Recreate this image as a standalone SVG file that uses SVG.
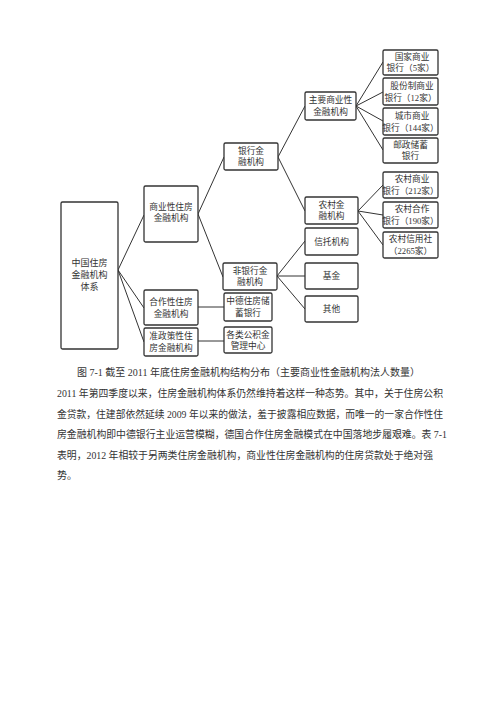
<svg xmlns="http://www.w3.org/2000/svg" width="500" height="707" viewBox="0 0 500 707">
<style>
.b{fill:#fff;stroke:#333;stroke-width:1.3}
.t{font-family:"Liberation Serif","Noto Sans CJK SC",serif;font-size:8.7px;fill:#333;text-anchor:middle}
.c{stroke:#333;stroke-width:1;fill:none}
.p{font-family:"Liberation Serif","Noto Sans CJK SC",serif;font-size:10px;fill:#333}
</style>
<rect width="500" height="707" fill="#fff"/>
<g id="connectors">
<path class="c" d="M118 270L144 215M118 270L144 308M118 270L144 342"/>
<path class="c" d="M198 214L224 157M198 214L223 277"/>
<path class="c" d="M278 157L305 106M278 157L305 211"/>
<path class="c" d="M356 106L383 62M356 106L383 92M356 106L383 121M356 106L383 150"/>
<path class="c" d="M358 211L383 185M358 211L383 215M358 211L383 245"/>
<path class="c" d="M277 276L305 241M277 276L305 276M277 276L305 309"/>
<path class="c" d="M198 307L224 307M198 341L224 341"/>
</g>
<g id="n-main"><rect class="b" x="61" y="202" width="57" height="147" rx="1.5"/><text class="t" style="font-size:9px"><tspan x="89.5" y="266">中国住房</tspan><tspan x="89.5" y="278">金融机构</tspan><tspan x="89.5" y="290">体系</tspan></text></g>
<g id="n-commercial"><rect class="b" x="144" y="186" width="54" height="56" rx="1.5"/><text class="t"><tspan x="171" y="210">商业性住房</tspan><tspan x="171" y="221">金融机构</tspan></text></g>
<g id="n-coop"><rect class="b" x="144" y="290" width="54" height="35" rx="1.5"/><text class="t"><tspan x="171" y="305">合作性住房</tspan><tspan x="171" y="317">金融机构</tspan></text></g>
<g id="n-policy"><rect class="b" x="144" y="328" width="54" height="28" rx="1.5"/><text class="t"><tspan x="171" y="339">准政策性住</tspan><tspan x="171" y="351">房金融机构</tspan></text></g>
<g id="n-bank"><rect class="b" x="224" y="143" width="54" height="27" rx="1.5"/><text class="t"><tspan x="251" y="154">银行金</tspan><tspan x="251" y="165">融机构</tspan></text></g>
<g id="n-nonbank"><rect class="b" x="223" y="263" width="54" height="27" rx="1.5"/><text class="t"><tspan x="250" y="274">非银行金</tspan><tspan x="250" y="285">融机构</tspan></text></g>
<g id="n-zhongde"><rect class="b" x="224" y="293" width="48" height="28" rx="1.5"/><text class="t"><tspan x="248" y="304">中德住房储</tspan><tspan x="248" y="316">蓄银行</tspan></text></g>
<g id="n-fund-center"><rect class="b" x="224" y="327" width="48" height="26" rx="1.5"/><text class="t"><tspan x="248" y="338">各类公积金</tspan><tspan x="248" y="349">管理中心</tspan></text></g>
<g id="n-main-comm"><rect class="b" x="305" y="92" width="51" height="28" rx="1.5"/><text class="t"><tspan x="330.5" y="103">主要商业性</tspan><tspan x="330.5" y="115">金融机构</tspan></text></g>
<g id="n-rural"><rect class="b" x="305" y="197" width="53" height="27" rx="1.5"/><text class="t"><tspan x="331.5" y="208">农村金</tspan><tspan x="331.5" y="219">融机构</tspan></text></g>
<g id="n-trust"><rect class="b" x="305" y="228" width="53" height="27" rx="1.5"/><text class="t" x="331.5" y="244.5">信托机构</text></g>
<g id="n-fund"><rect class="b" x="305" y="263" width="53" height="26" rx="1.5"/><text class="t" x="331.5" y="279">基金</text></g>
<g id="n-other"><rect class="b" x="305" y="296" width="53" height="26" rx="1.5"/><text class="t" x="331.5" y="312">其他</text></g>
<g id="n-state"><rect class="b" x="383" y="50" width="55" height="25" rx="1.5"/><text class="t"><tspan x="412" y="60">国家商业</tspan><tspan x="410.5" y="71">银行（5家）</tspan></text></g>
<g id="n-joint"><rect class="b" x="383" y="78" width="55" height="27" rx="1.5"/><text class="t"><tspan x="412" y="89">股份制商业</tspan><tspan x="410.5" y="101">银行（12家）</tspan></text></g>
<g id="n-city"><rect class="b" x="383" y="108" width="55" height="27" rx="1.5"/><text class="t"><tspan x="412" y="119">城市商业</tspan><tspan x="410.5" y="131">银行（144家）</tspan></text></g>
<g id="n-postal"><rect class="b" x="383" y="138" width="55" height="25" rx="1.5"/><text class="t"><tspan x="410.5" y="148">邮政储蓄</tspan><tspan x="410.5" y="159">银行</tspan></text></g>
<g id="n-rcb"><rect class="b" x="383" y="172" width="55" height="26" rx="1.5"/><text class="t"><tspan x="412" y="182">农村商业</tspan><tspan x="410.5" y="194">银行（212家）</tspan></text></g>
<g id="n-rcoop"><rect class="b" x="383" y="202" width="55" height="26" rx="1.5"/><text class="t"><tspan x="412" y="212">农村合作</tspan><tspan x="410.5" y="224">银行（190家）</tspan></text></g>
<g id="n-rcc"><rect class="b" x="383" y="232" width="55" height="26" rx="1.5"/><text class="t"><tspan x="410.5" y="242">农村信用社</tspan><tspan x="410.5" y="254">（2265家）</tspan></text></g>
<text class="p" x="77" y="376" textLength="343" lengthAdjust="spacingAndGlyphs">图 7-1  截至 2011 年底住房金融机构结构分布（主要商业性金融机构法人数量）</text>
<text class="p" x="57" y="397" textLength="386" lengthAdjust="spacingAndGlyphs">2011 年第四季度以来，住房金融机构体系仍然维持着这样一种态势。其中，关于住房公积</text>
<text class="p" x="57" y="417.5" textLength="386" lengthAdjust="spacingAndGlyphs">金贷款，住建部依然延续 2009 年以来的做法，羞于披露相应数据，而唯一的一家合作性住</text>
<text class="p" x="57" y="438" textLength="390" lengthAdjust="spacingAndGlyphs">房金融机构即中德银行主业运营模糊，德国合作住房金融模式在中国落地步履艰难。表 7-1</text>
<text class="p" x="57" y="458.5" textLength="376" lengthAdjust="spacingAndGlyphs">表明，2012 年相较于另两类住房金融机构，商业性住房金融机构的住房贷款处于绝对强</text>
<text class="p" x="57" y="479">势。</text>
</svg>
